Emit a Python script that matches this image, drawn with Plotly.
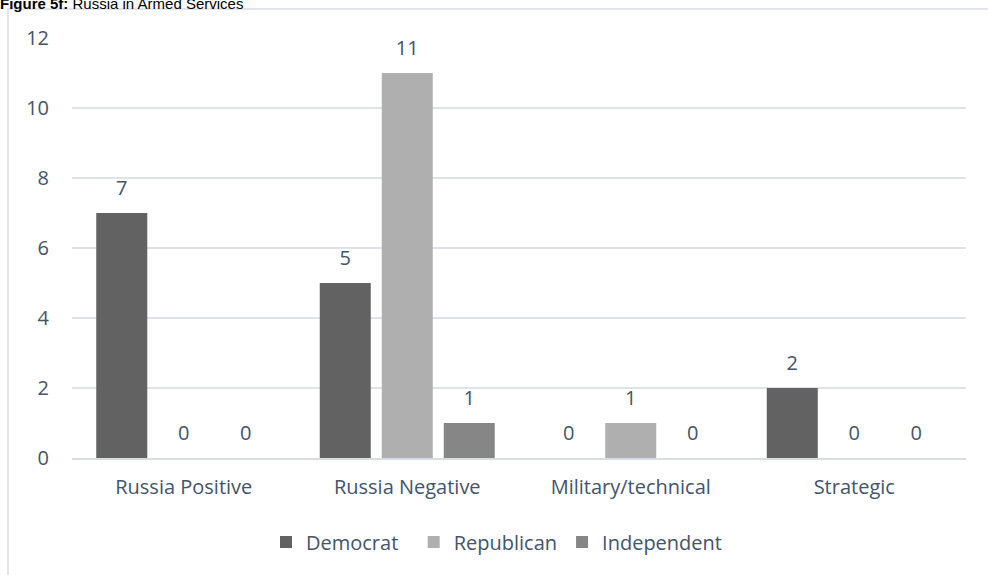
import plotly.graph_objects as go

categories = ["Russia Positive", "Russia Negative", "Military/technical", "Strategic"]
democrat = [7, 5, 0, 2]
republican = [0, 11, 1, 0]
independent = [0, 1, 0, 0]
y_ticks = [0, 2, 4, 6, 8, 10, 12]

series = [
    ("Democrat", democrat, "#626262"),
    ("Republican", republican, "#afafaf"),
    ("Independent", independent, "#868686"),
]
# trailing padding so legend entries are evenly spaced like the reference
legend_pad = {"Democrat": "\u00a0\u00a0", "Republican": "", "Independent": ""}

FONT = "Open Sans"
TXT = "#44546a"
FS = 20
GAP = 0.168

fig = go.Figure()
for i, (name, vals, col) in enumerate(series):
    fig.add_trace(go.Bar(
        name=name + legend_pad[name], x=categories, y=vals, offsetgroup=str(i),
        marker=dict(color=col, line=dict(width=0)),
        hovertemplate=name + ": %{y}<extra></extra>",
    ))
for i, (name, vals, col) in enumerate(series):
    # data labels, grouped exactly like the bars
    fig.add_trace(go.Scatter(
        name=name, x=categories, y=vals, offsetgroup=str(i),
        mode="markers+text", text=[str(v) for v in vals], textposition="top center",
        marker=dict(size=19, color="rgba(0,0,0,0)"),
        textfont=dict(family=FONT, size=FS, color=TXT),
        showlegend=False, hoverinfo="skip", cliponaxis=False,
    ))

fig.update_layout(
    width=988, height=575,
    margin=dict(l=72, r=22, t=38, b=117),
    paper_bgcolor="white", plot_bgcolor="white",
    barmode="group", bargap=GAP, bargroupgap=0.177,
    scattermode="group", scattergap=GAP,
    font=dict(family=FONT, size=FS, color=TXT),
    showlegend=True,
    legend=dict(orientation="h", x=0.217, xanchor="left", y=-0.2, yanchor="middle",
                font=dict(family=FONT, size=FS, color=TXT), traceorder="normal",
                itemwidth=30),
    xaxis=dict(showgrid=False, showline=True, linecolor="#d9dde3", linewidth=1.5,
               ticks="", ticklabelstandoff=10,
               tickfont=dict(family=FONT, size=FS, color=TXT)),
    yaxis=dict(range=[0, 12], tickvals=y_ticks, showgrid=True, gridcolor="#dfe3e8",
               gridwidth=1.5, zeroline=False, showline=False, ticks="",
               ticklabelstandoff=22,
               tickfont=dict(family=FONT, size=FS, color=TXT)),
)

# outer chart frame
fig.add_shape(type="rect", xref="paper", yref="paper",
              x0=-0.0716, x1=1.2, y0=-0.6, y1=1.069,
              line=dict(color="#d9dee5", width=1.5), fillcolor="rgba(0,0,0,0)", layer="below")

fig.add_annotation(xref="paper", yref="paper", x=-0.083, y=1.057, xanchor="left", yanchor="bottom",
                   showarrow=False,
                   text="<b>Figure 5f:</b> Russia in Armed Services",
                   font=dict(family="Liberation Sans", size=15, color="black"))

fig.write_html("out.html", config={"displayModeBar": False},
               post_script="document.body.style.margin='0';")
